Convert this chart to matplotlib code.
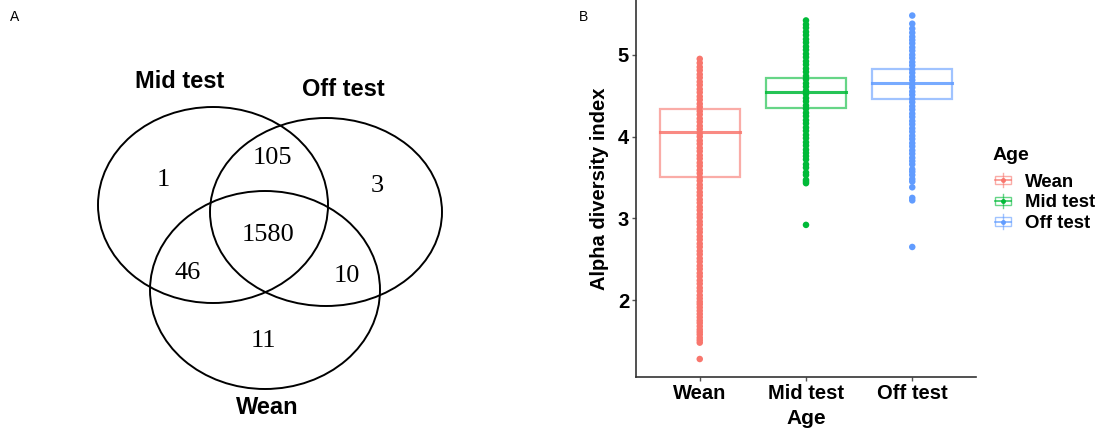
import matplotlib
matplotlib.use('Agg')
import matplotlib.pyplot as plt
from matplotlib.patches import Ellipse, Rectangle
from matplotlib.lines import Line2D
from matplotlib.legend_handler import HandlerBase

plt.rcParams['font.family'] = ['Liberation Sans', 'DejaVu Sans']

# painel A - venn
set_names = ['Mid test', 'Off test', 'Wean']
region_counts = ['1', '105', '3', '1580', '46', '10', '11']

# painel B - boxplot
groups = ['Wean', 'Mid test', 'Off test']
colors = ['#F8766D', '#00BA38', '#619CFF']
q1 = [3.51, 4.35, 4.46]
medians = [4.06, 4.54, 4.65]
q3 = [4.34, 4.72, 4.83]

wean_pts = [1.28, 1.48, 1.51, 1.54, 1.58, 1.61, 1.64, 1.68, 1.72, 1.75, 1.79, 1.83, 1.87, 1.91, 1.95, 1.98,
            2.02, 2.06, 2.11, 2.15, 2.2, 2.24, 2.29, 2.33, 2.38, 2.42, 2.47, 2.51, 2.56, 2.6, 2.65, 2.69,
            2.74, 2.78, 2.83, 2.87, 2.92, 2.96, 3.01, 3.05, 3.1, 3.14, 3.19, 3.23, 3.28, 3.32, 3.37, 3.41,
            3.46, 3.5, 3.55, 3.59, 3.64, 3.68, 3.73, 3.77, 3.82, 3.86, 3.91, 3.95, 4.0, 4.04, 4.09, 4.13,
            4.18, 4.22, 4.27, 4.31, 4.36, 4.4, 4.45, 4.49, 4.54, 4.58, 4.63, 4.67, 4.72, 4.76, 4.81, 4.85,
            4.9, 4.95]
mid_pts = [2.92, 3.43, 3.45, 3.47, 3.53, 3.56, 3.62, 3.66, 3.72, 3.76, 3.8,
           3.84, 3.89, 3.93, 3.98, 4.02, 4.07, 4.11, 4.16, 4.2, 4.25, 4.29, 4.34, 4.38, 4.43, 4.47, 4.52,
           4.56, 4.61, 4.65, 4.7, 4.74, 4.79, 4.83, 4.88, 4.92, 4.97, 5.01, 5.06, 5.1, 5.15, 5.19, 5.24,
           5.28, 5.33, 5.37, 5.42]
off_pts = [2.65, 3.22, 3.25, 3.38, 3.45, 3.48, 3.53, 3.57, 3.6, 3.66, 3.7,
           3.74, 3.79, 3.83, 3.88, 3.92, 3.97, 4.01, 4.06, 4.1, 4.15, 4.19, 4.24, 4.28, 4.33, 4.37, 4.42,
           4.46, 4.51, 4.55, 4.6, 4.64, 4.69, 4.73, 4.78, 4.82, 4.87, 4.91, 4.96, 5.0, 5.05, 5.09, 5.14,
           5.18, 5.22, 5.27, 5.32, 5.38, 5.48]
points = [wean_pts, mid_pts, off_pts]


class BoxKey(HandlerBase):
    # desenha a chave da legenda no estilo do ggplot (caixinha com mediana e ponto)
    def create_artists(self, legend, orig_handle, xdescent, ydescent, width, height, fontsize, trans):
        c = orig_handle.get_color()
        cx = -xdescent + width / 2
        cy = -ydescent + height / 2
        bw = width * 0.8
        bh = height * 0.6
        box = Rectangle((cx - bw / 2, cy - bh / 2), bw, bh, fill=False, edgecolor=c,
                        alpha=0.6, linewidth=1.0, transform=trans)
        vline = Line2D([cx, cx], [-ydescent, -ydescent + height], color=c, alpha=0.6,
                       linewidth=1.0, transform=trans)
        hline = Line2D([cx - bw / 2, cx + bw / 2], [cy, cy], color=c, alpha=0.8,
                       linewidth=1.2, transform=trans)
        dot = Line2D([cx], [cy], marker='o', markersize=2.5, color=c, linestyle='none',
                     transform=trans)
        return [box, vline, hline, dot]


fig = plt.figure(figsize=(11, 4.36), dpi=100)

# ---- A ----
ax = fig.add_axes([0, 0, 0.5, 1])
ax.set_xlim(0, 550)
ax.set_ylim(436, 0)
ax.axis('off')

ellipses = [(213, 205, 230, 196), (326, 212, 232, 188), (265, 290, 230, 198)]
for cx, cy, w, h in ellipses:
    ax.add_patch(Ellipse((cx, cy), w, h, fill=False, edgecolor='black', linewidth=1.4))

name_pos = [(180, 82), (343, 90), (267, 407)]
for name, (x, y) in zip(set_names, name_pos):
    ax.text(x, y, name, ha='center', va='center', fontsize=17, fontweight='bold')

count_pos = [(163, 180), (272, 158), (377, 186), (268, 235), (188, 273), (347, 276), (263, 341)]
for c, (x, y) in zip(region_counts, count_pos):
    ax.text(x, y, c, ha='center', va='center', fontsize=19, family='Liberation Serif')

fig.text(15 / 1100, 1 - 17 / 436, 'A', fontsize=10, ha='center', va='center')
fig.text(584 / 1100, 1 - 17 / 436, 'B', fontsize=10, ha='center', va='center')

# ---- B ----
bx = fig.add_axes([636 / 1100, (436 - 377) / 436, (976 - 636) / 1100, 377 / 436])
bw = 0.75
for i in range(3):
    x = i + 1
    bx.add_patch(Rectangle((x - bw / 2, q1[i]), bw, q3[i] - q1[i], fill=False,
                           edgecolor=colors[i], alpha=0.6, linewidth=1.6, zorder=2))
    bx.plot([x - bw / 2, x + bw / 2], [medians[i], medians[i]], color=colors[i],
            alpha=0.85, linewidth=2.2, zorder=2)
    bx.scatter([x] * len(points[i]), points[i], s=22, color=colors[i], edgecolors='none', zorder=3)

bx.set_xlim(0.4, 3.6)
bx.set_ylim(1.06, 5.67)
bx.set_xticks([1, 2, 3])
bx.set_xticklabels(groups)
bx.set_yticks([2, 3, 4, 5])
for s in ['top', 'right']:
    bx.spines[s].set_visible(False)
for s in ['left', 'bottom']:
    bx.spines[s].set_color('#333333')
    bx.spines[s].set_linewidth(1.2)
bx.tick_params(length=3, width=1, color='#555555', labelsize=14.5, pad=2)
for lab in bx.get_xticklabels() + bx.get_yticklabels():
    lab.set_fontweight('bold')
bx.set_xlabel('Age', fontsize=15, fontweight='bold', labelpad=4)
bx.set_ylabel('Alpha diversity index', fontsize=14.5, fontweight='bold', labelpad=6)

# legenda
fig.text(993 / 1100, 1 - 155 / 436, 'Age', fontsize=14, fontweight='bold', ha='left', va='center')
handles = [Line2D([], [], color=c) for c in colors]
leg = fig.legend(handles, groups, handler_map={Line2D: BoxKey()},
                 loc='upper left', bbox_to_anchor=(993 / 1100, 1 - 173 / 436), frameon=False,
                 prop={'size': 13.4, 'weight': 'bold'}, handlelength=1.1, handleheight=0.8,
                 labelspacing=0.17, handletextpad=0.6, borderaxespad=0, borderpad=0)

fig.savefig('out.png', dpi=100)
